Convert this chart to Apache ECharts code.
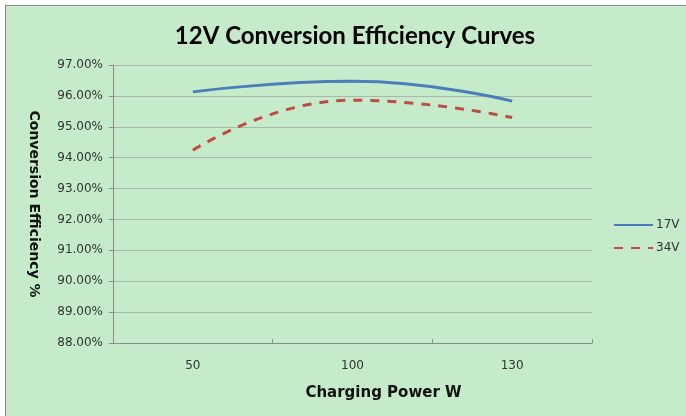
<!DOCTYPE html>
<html>
<head>
<meta charset="utf-8">
<script src="https://cdn.jsdelivr.net/npm/echarts@6/dist/echarts.min.js"></script>
<style>
  html, body { margin: 0; padding: 0; background: #fff; overflow: hidden; }
  #wrap { position: relative; width: 686px; height: 416px; overflow: hidden; }
  #chart { position: absolute; left: 5px; top: 5px; width: 700px; height: 430px;
    background: #c6ebca; border-left: 1px solid #8c8c8c; border-top: 1px solid #8c8c8c; }
</style>
</head>
<body>
<div id="wrap"><div id="chart"></div></div>
<script>
  // x 轴类目 / 数据
  const powers = ['50', '100', '130'];
  const eff17V = [96.13, 96.47, 95.83];
  const eff34V = [94.24, 95.86, 95.30];
  const yTicks = [88, 97, 1]; // min, max, interval

  const myEcharts = echarts.init(document.getElementById('chart'));
  const labelFont = 'DejaVu Sans';
  let option = {
    animation: false,
    title: {
      text: '12V Conversion Efficiency Curves',
      left: 344,
      textAlign: 'center',
      top: 13,
      textStyle: { fontFamily: 'Lato', fontWeight: 'bold', fontSize: 24, color: '#000' }
    },
    legend: {
      orient: 'vertical',
      left: 602,
      top: 208,
      itemWidth: 39,
      itemHeight: 14,
      itemGap: 11,
      itemStyle: { opacity: 0 },
      textStyle: { fontFamily: labelFont, fontSize: 12, color: '#333', padding: [0, 0, 0, -2] },
      data: ['17V', '34V']
    },
    grid: { left: 107, top: 59, width: 479, height: 278 },
    xAxis: {
      type: 'category',
      data: powers,
      boundaryGap: true,
      name: 'Charging Power W',
      nameLocation: 'middle',
      nameGap: 43,
      nameTextStyle: { fontFamily: labelFont, fontWeight: 'bold', fontSize: 15, color: '#111', padding: [0, 0, 0, 62] },
      axisLine: { lineStyle: { color: '#8c8c8c' } },
      axisTick: { show: true, length: 4, inside: true, lineStyle: { color: '#8c8c8c' } },
      axisLabel: { margin: 17, fontFamily: labelFont, fontSize: 12, color: '#333' }
    },
    yAxis: {
      type: 'value',
      min: yTicks[0],
      max: yTicks[1],
      interval: yTicks[2],
      name: 'Conversion Efficiency %',
      nameLocation: 'middle',
      nameRotate: -90,
      nameGap: 72,
      nameTextStyle: { fontFamily: labelFont, fontWeight: 'bold', fontSize: 14, color: '#111' },
      axisLine: { show: true, lineStyle: { color: '#8c8c8c' } },
      axisTick: { show: true, length: 4, lineStyle: { color: '#8c8c8c' } },
      splitLine: { show: true, lineStyle: { color: '#a9b8aa', width: 1 } },
      axisLabel: {
        margin: 10,
        fontFamily: labelFont, fontSize: 12, color: '#333',
        formatter: v => v.toFixed(2) + '%'
      }
    },
    series: [
      {
        name: '17V',
        type: 'line',
        data: eff17V,
        smooth: 0.5,
        symbol: 'none',
        lineStyle: { color: '#4a7ebb', width: 3 },
        itemStyle: { color: '#4a7ebb' }
      },
      {
        name: '34V',
        type: 'line',
        data: eff34V,
        smooth: 0.5,
        symbol: 'none',
        lineStyle: { color: '#be4b48', width: 3, type: [9, 8] },
        itemStyle: { color: '#be4b48' }
      }
    ]
  };
  myEcharts.setOption(option);
</script>
</body>
</html>
